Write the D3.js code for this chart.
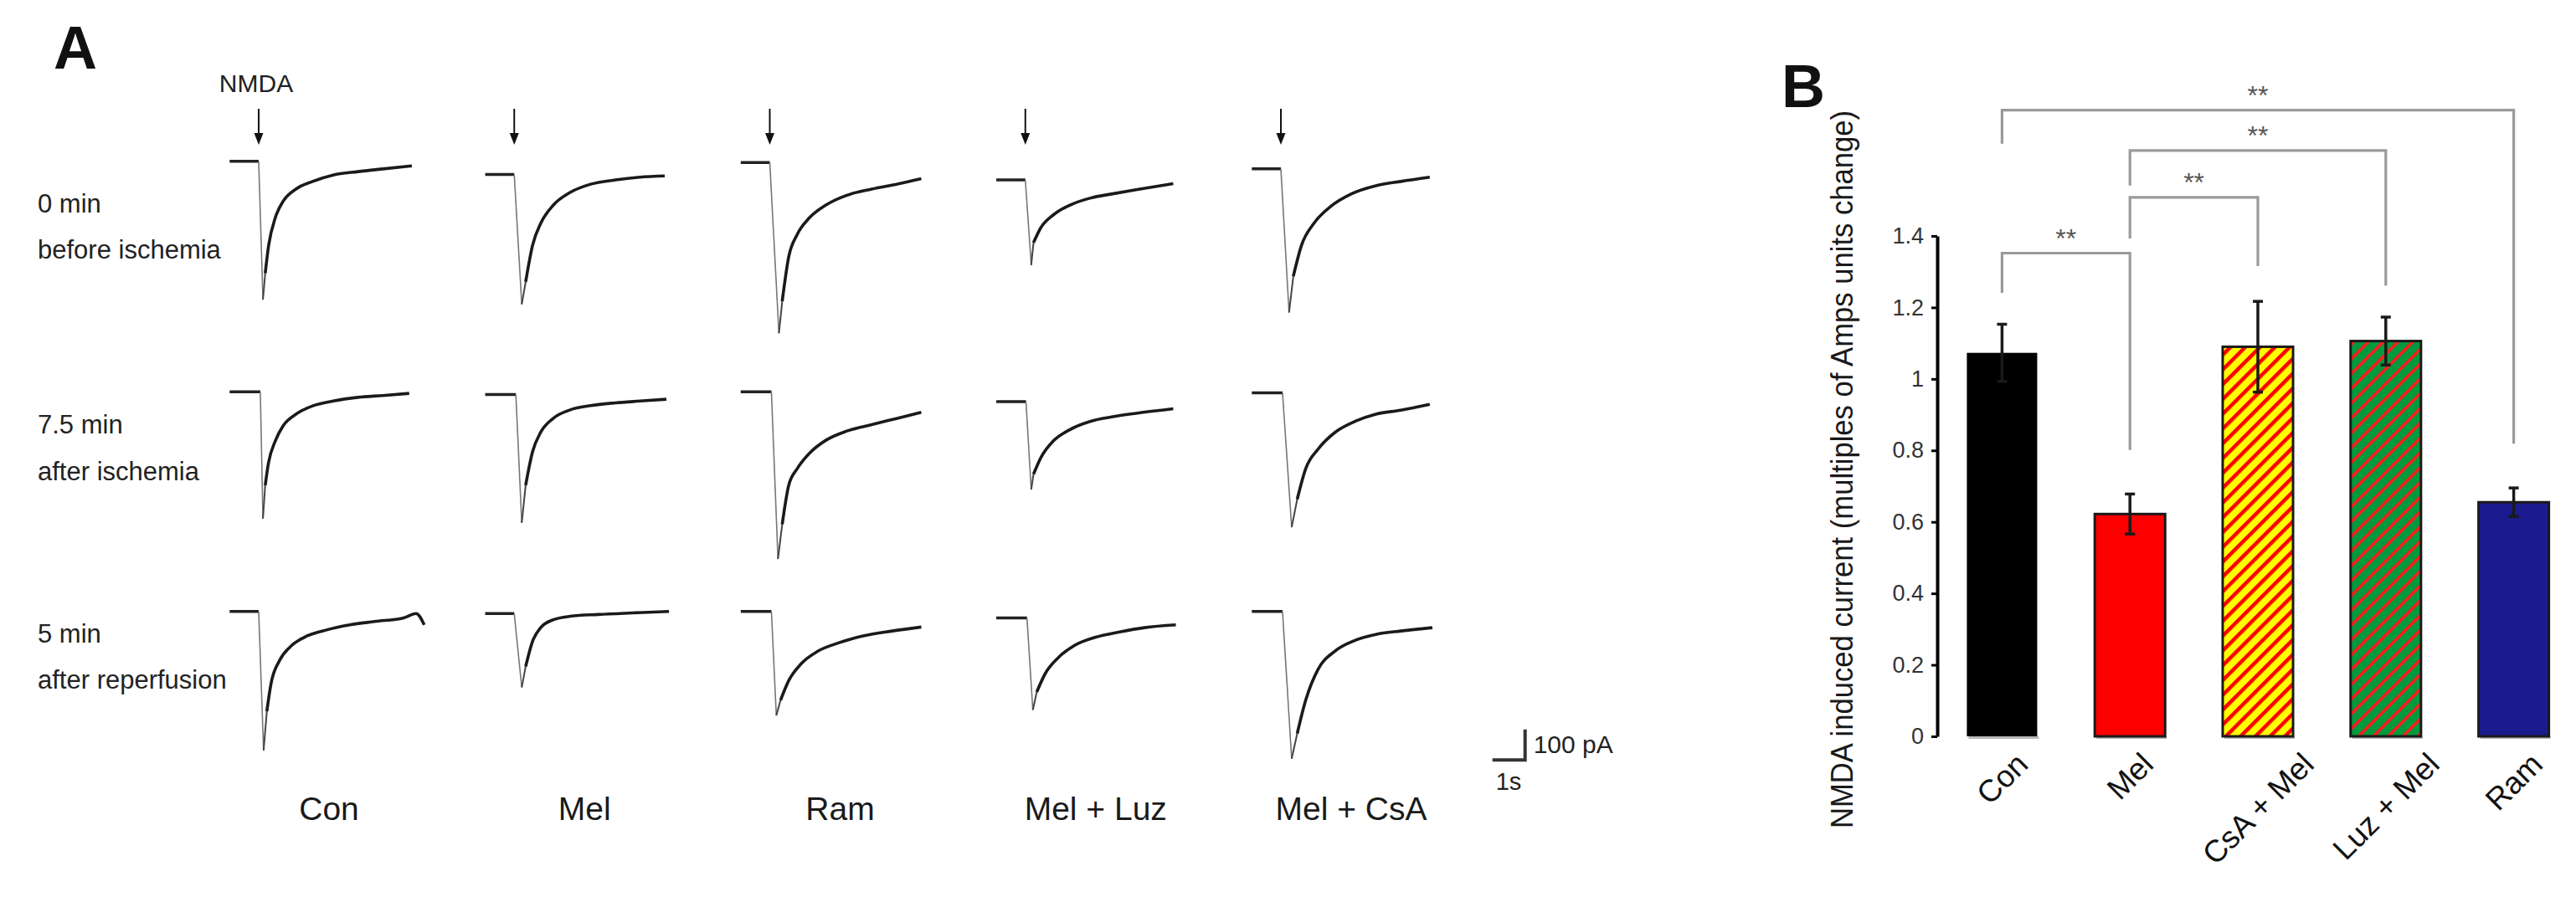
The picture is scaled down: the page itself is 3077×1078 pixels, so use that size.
<!DOCTYPE html>
<html><head><meta charset="utf-8">
<script src="https://cdn.jsdelivr.net/npm/d3@7"></script>
<style>html,body{margin:0;padding:0;background:#fff;}svg{display:block;}</style>
</head><body>
<script>
// ---------------- Panel A data (time in s, current in pA) ----------------
const conditions = ["Con", "Mel", "Ram", "Mel + Luz", "Mel + CsA"];
const rowTitles = [["0 min", "before ischemia"], ["7.5 min", "after ischemia"], ["5 min", "after reperfusion"]];
// holding-current shift of each trace relative to its row (pA)
const baselineShift = [
  [0, -43, -4, -61, -25],
  [0, -9, 0, -32, -3],
  [0, -7, 0, -21, 0]
];
const tracesBefore = [
  [[-0.89,0],[0,0],[0.13,-452],[0.20,-366],[0.305,-275],[0.51,-184],[0.76,-129],[1.14,-91],[1.65,-66],[2.28,-45],[3.04,-34],[3.80,-25],[4.69,-15]],
  [[-0.89,0],[0,0],[0.23,-424],[0.35,-351],[0.56,-232],[0.81,-160],[1.20,-100],[1.71,-59],[2.34,-32],[3.10,-18],[3.85,-9],[4.61,-5]],
  [[-0.89,0],[0,0],[0.28,-558],[0.38,-454],[0.58,-308],[0.84,-235],[1.22,-180],[1.72,-139],[2.36,-107],[3.12,-87],[3.88,-71],[4.64,-53]],
  [[-0.89,0],[0,0],[0.18,-278],[0.25,-205],[0.48,-155],[0.86,-114],[1.37,-82],[2.0,-59],[2.64,-46],[3.39,-32],[4.53,-12]],
  [[-0.89,0],[0,0],[0.25,-469],[0.38,-351],[0.63,-250],[1.01,-178],[1.52,-123],[2.15,-82],[2.91,-55],[3.67,-41],[4.56,-27]]
];
const tracesIschemia = [
  [[-0.89,0],[0.05,0],[0.13,-414],[0.20,-305],[0.30,-232],[0.51,-160],[0.76,-109],[1.14,-73],[1.65,-46],[2.28,-30],[3.04,-18],[3.80,-12],[4.61,-5]],
  [[-0.89,0],[0.05,0],[0.23,-419],[0.35,-296],[0.56,-187],[0.81,-123],[1.20,-77],[1.71,-50],[2.34,-36],[3.10,-27],[3.85,-21],[4.66,-15]],
  [[-0.89,0],[0.05,0],[0.25,-546],[0.38,-433],[0.58,-305],[0.84,-251],[1.22,-200],[1.72,-158],[2.36,-128],[3.12,-107],[3.88,-87],[4.64,-67]],
  [[-0.89,0],[0.02,0],[0.18,-287],[0.25,-237],[0.48,-182],[0.86,-128],[1.37,-91],[2.0,-64],[2.64,-50],[3.39,-38],[4.53,-23]],
  [[-0.89,0],[0.05,0],[0.33,-439],[0.50,-348],[0.76,-248],[1.14,-184],[1.65,-130],[2.28,-93],[2.91,-70],[3.67,-57],[4.56,-38]]
];
const tracesReperfusion = [
  [[-0.89,0],[0,0],[0.15,-454],[0.25,-326],[0.38,-235],[0.63,-162],[0.96,-116],[1.39,-85],[2.03,-62],[2.79,-44],[3.55,-33],[4.44,-21],[4.82,-7],[5.07,-44]],
  [[-0.89,0],[0,0],[0.23,-241],[0.35,-173],[0.56,-91],[0.81,-46],[1.20,-20],[1.71,-9],[2.58,-3],[3.60,2],[4.74,7]],
  [[-0.89,0],[0.05,0],[0.20,-340],[0.33,-290],[0.58,-226],[0.96,-171],[1.47,-130],[2.10,-103],[2.86,-80],[3.75,-64],[4.64,-51]],
  [[-0.89,0],[0.05,0],[0.23,-301],[0.35,-242],[0.61,-182],[0.99,-132],[1.49,-91],[2.13,-64],[2.89,-46],[3.65,-32],[4.61,-23]],
  [[-0.89,0],[0.05,0],[0.33,-481],[0.50,-399],[0.76,-290],[1.14,-189],[1.65,-130],[2.28,-94],[2.91,-75],[3.67,-64],[4.64,-53]]
];
const scaleBarTime = 1;      // s
const scaleBarCurrent = 100; // pA

// ---------------- Panel B data ----------------
const categories = ["Con", "Mel", "CsA + Mel", "Luz + Mel", "Ram"];
const means = [1.073, 0.622, 1.090, 1.106, 0.655];
const sems = [0.080, 0.056, 0.127, 0.067, 0.040];
const yTicks = [0, 0.2, 0.4, 0.6, 0.8, 1, 1.2, 1.4];
const yTickLabels = ["0", "0.2", "0.4", "0.6", "0.8", "1", "1.2", "1.4"];
const sigPairs = [[0, 4], [1, 3], [1, 2], [0, 1]];
const sigLevels = [1.752, 1.639, 1.508, 1.352];
const sigLeftEnds = [1.658, 1.541, 1.393, 1.241];
const sigRightEnds = [0.819, 1.261, 1.316, 0.801];
const sigLabels = ["**", "**", "**", "**"];
const yAxisTitle = "NMDA induced current (multiples of Amps units change)";

// ---------------- drawing ----------------
const W = 3077, H = 1078;
const FONT = "'Liberation Sans', Arial, Helvetica, sans-serif";
const svg = d3.select("body").append("svg").attr("width", W).attr("height", H)
  .style("font-family", FONT);
svg.append("rect").attr("width", W).attr("height", H).attr("fill", "#fff");

// ===== Panel A =====
const A = svg.append("g");
A.append("text").attr("x", 64).attr("y", 82).attr("font-size", 72).attr("font-weight", "bold")
  .attr("fill", "#111").text("A");

const onset0 = 309, colStep = 305.25;
const rowBase = [192.7, 468.3, 730.7];
const pxPerSec = 39, pxPerPA = 0.366;
const allTraces = [tracesBefore, tracesIschemia, tracesReperfusion];

allTraces.forEach((rowTraces, r) => {
  rowTraces.forEach((tr, c) => {
    const onset = onset0 + c * colStep;
    const base = rowBase[r] - baselineShift[r][c] * pxPerPA;
    const x = d3.scaleLinear().domain([0, 1]).range([onset, onset + pxPerSec]);
    const y = d3.scaleLinear().domain([0, -100]).range([base, base + 100 * pxPerPA]);
    const line = d3.line().x(d => x(d[0])).y(d => y(d[1]));
    const g = A.append("g");
    g.append("path").attr("d", line(tr.slice(0, 2))).attr("fill", "none")
      .attr("stroke", "#222").attr("stroke-width", 3.5);
    g.append("path").attr("d", line(tr.slice(1, 3))).attr("fill", "none")
      .attr("stroke", "#777").attr("stroke-width", 1.6);
    g.append("path").attr("d", line.curve(d3.curveMonotoneX)(tr.slice(2, 4))).attr("fill", "none")
      .attr("stroke", "#444").attr("stroke-width", 2);
    g.append("path").attr("d", line.curve(d3.curveMonotoneX)(tr.slice(3))).attr("fill", "none")
      .attr("stroke", "#1a1a1a").attr("stroke-width", 3.6).attr("stroke-linejoin", "round");
    if (r === 0) {
      // NMDA application arrow
      g.append("line").attr("x1", onset).attr("x2", onset).attr("y1", 130).attr("y2", 162)
        .attr("stroke", "#111").attr("stroke-width", 2);
      g.append("path").attr("d", `M${onset - 5.5},159 L${onset + 5.5},159 L${onset},173 Z`).attr("fill", "#111");
    }
  });
});

A.append("text").attr("x", onset0 - 3).attr("y", 110).attr("text-anchor", "middle")
  .attr("font-size", 30).attr("fill", "#222").text("NMDA");

const labelY = [[254, 309], [518, 574], [768, 823]];
rowTitles.forEach((t, r) => {
  t.forEach((s, k) => {
    A.append("text").attr("x", 45).attr("y", labelY[r][k]).attr("font-size", 31)
      .attr("fill", "#222").text(s);
  });
});

conditions.forEach((s, c) => {
  A.append("text").attr("x", onset0 + c * colStep + 84).attr("y", 980).attr("text-anchor", "middle")
    .attr("font-size", 39).attr("fill", "#1a1a1a").text(s);
});

// scale bar
{
  const x = d3.scaleLinear().domain([0, 1]).range([1782.7, 1782.7 + pxPerSec]);
  const y = d3.scaleLinear().domain([0, 100]).range([908.3, 908.3 - 100 * pxPerPA]);
  const p = d3.path();
  p.moveTo(x(0), y(0)); p.lineTo(x(scaleBarTime), y(0)); p.lineTo(x(scaleBarTime), y(scaleBarCurrent));
  A.append("path").attr("d", p.toString()).attr("fill", "none").attr("stroke", "#333").attr("stroke-width", 4);
  A.append("text").attr("x", x(scaleBarTime) + 10).attr("y", 900).attr("font-size", 30).attr("fill", "#222")
    .text(scaleBarCurrent + " pA");
  A.append("text").attr("x", x(0) + 4).attr("y", 944).attr("font-size", 29).attr("fill", "#222")
    .text(scaleBarTime + "s");
}

// ===== Panel B =====
const B = svg.append("g");
B.append("text").attr("x", 2128).attr("y", 128).attr("font-size", 72).attr("font-weight", "bold")
  .attr("fill", "#111").text("B");

const defs = svg.append("defs");
function stripes(id, bg, fg, w) {
  const P = 12.5;
  const p = defs.append("pattern").attr("id", id).attr("patternUnits", "userSpaceOnUse")
    .attr("width", P).attr("height", P).attr("patternTransform", "rotate(45)");
  p.append("rect").attr("width", P).attr("height", P).attr("fill", bg);
  p.append("rect").attr("width", w).attr("height", P).attr("fill", fg);
}
stripes("stripeY", "#ffff00", "#ff0000", 4.5);
stripes("stripeG", "#009a3e", "#ff1a1a", 3.6);
const fills = ["#000000", "#ff0000", "url(#stripeY)", "url(#stripeG)", "#1b1b8e"];

const xB = d3.scaleBand().domain(categories).range([2315, 3079]).paddingInner(0.45).paddingOuter(0.225);
const yB = d3.scaleLinear().domain([0, 1.4]).range([880, 282]);

// axis
const axis = d3.axisLeft(yB).tickValues(yTicks).tickFormat((d, i) => yTickLabels[i])
  .tickSizeInner(7).tickSizeOuter(0).tickPadding(9);
const ax = B.append("g").attr("transform", "translate(2314,0)").call(axis);
ax.select(".domain").attr("stroke", "#000").attr("stroke-width", 4);
ax.selectAll(".tick line").attr("stroke", "#000").attr("stroke-width", 3);
ax.selectAll(".tick text").attr("font-size", 27).attr("fill", "#333").attr("font-family", FONT);

// bars
categories.forEach((cat, i) => {
  B.append("rect").attr("x", xB(cat) + 2).attr("y", yB(0)).attr("width", xB.bandwidth())
    .attr("height", 3).attr("fill", "#b8b8b8");
  B.append("rect").attr("x", xB(cat)).attr("y", yB(means[i])).attr("width", xB.bandwidth())
    .attr("height", yB(0) - yB(means[i])).attr("fill", fills[i])
    .attr("stroke", i === 0 ? "none" : "#1a1a1a").attr("stroke-width", 3);
  const cx = xB(cat) + xB.bandwidth() / 2;
  const hi = yB(means[i] + sems[i]), lo = yB(means[i] - sems[i]);
  const eb = B.append("g").attr("stroke", "#1a1a1a").attr("stroke-width", 3.5);
  eb.append("line").attr("x1", cx).attr("x2", cx).attr("y1", hi).attr("y2", lo);
  eb.append("line").attr("x1", cx - 6).attr("x2", cx + 6).attr("y1", hi).attr("y2", hi);
  eb.append("line").attr("x1", cx - 6).attr("x2", cx + 6).attr("y1", lo).attr("y2", lo);
});

// significance brackets
sigPairs.forEach((pr, k) => {
  const x1 = xB(categories[pr[0]]) + xB.bandwidth() / 2;
  const x2 = xB(categories[pr[1]]) + xB.bandwidth() / 2;
  const yl = yB(sigLevels[k]);
  B.append("path")
    .attr("d", `M${x1},${yB(sigLeftEnds[k])} L${x1},${yl} L${x2},${yl} L${x2},${yB(sigRightEnds[k])}`)
    .attr("fill", "none").attr("stroke", "#9a9a9a").attr("stroke-width", 3.2);
  B.append("text").attr("x", (x1 + x2) / 2).attr("y", yl - 7).attr("text-anchor", "middle")
    .attr("font-size", 32).attr("fill", "#555").text(sigLabels[k]);
});

// x labels (rotated)
const fsX = 37;
categories.forEach((cat, i) => {
  const cx = xB(cat) + xB.bandwidth() / 2;
  const t = B.append("text").attr("text-anchor", "middle").attr("dy", "0.35em")
    .attr("font-size", fsX).attr("fill", "#111").text(cat);
  const L = t.node().getComputedTextLength();
  const hb = (L + fsX * 0.72) * Math.SQRT1_2;
  t.attr("transform", `translate(${cx},${897 + hb / 2}) rotate(-45)`);
});

// y-axis title
B.append("text").attr("transform", "translate(2213,561) rotate(-90)").attr("text-anchor", "middle")
  .attr("font-size", 36).attr("fill", "#1a1a1a").attr("textLength", 858).attr("lengthAdjust", "spacingAndGlyphs")
  .text(yAxisTitle);
</script>
</body></html>
